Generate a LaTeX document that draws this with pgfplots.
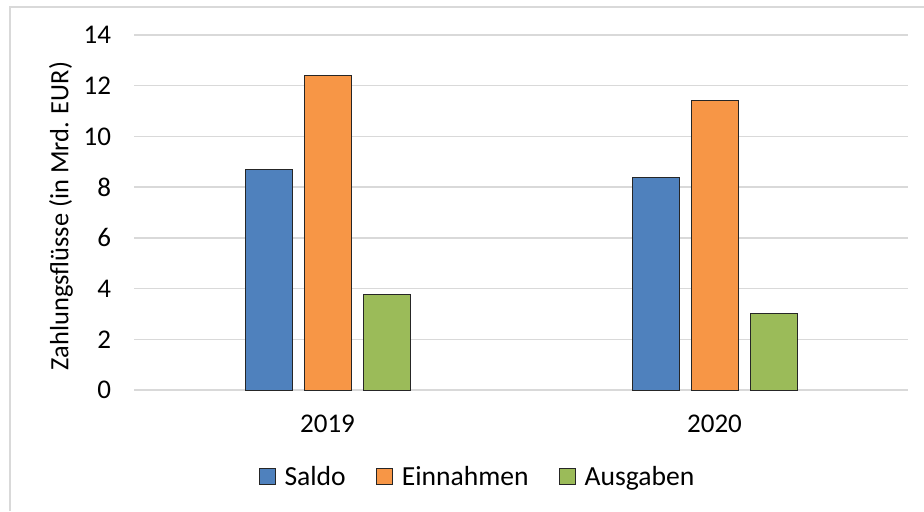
\documentclass[border=0pt]{standalone}
\usepackage{pgfplots}
\pgfplotsset{compat=1.18}
\usepackage{fontspec}
\setmainfont{Carlito}
\definecolor{cSaldo}{HTML}{4F81BD}
\definecolor{cEin}{HTML}{F79646}
\definecolor{cAus}{HTML}{9BBB59}
\definecolor{gridc}{HTML}{D9D9D9}
\begin{document}
\begin{tikzpicture}
\path[use as bounding box] (0,0) rectangle (462pt,255.5pt);
\draw[gridc, line width=1.2pt] (5pt,0) -- (5pt,252pt) -- (462pt,252pt);
\begin{axis}[
  at={(67pt,60.5pt)}, anchor=south west,
  scale only axis, width=387pt, height=177.5pt,
  ybar=6pt, bar width=23.5pt,
  xmin=-0.5, xmax=1.5, ymin=0, ymax=14,
  xtick=data, xticklabels={2019,2020},
  ytick={0,2,...,14},
  major tick length=0pt,
  ymajorgrids, grid style={gridc, line width=0.75pt},
  axis line style={draw=none},
  /pgf/number format/assume math mode=true,
  font=\fontsize{13.5pt}{16pt}\selectfont,
  yticklabel style={xshift=-8pt},
  xticklabel style={yshift=-9pt},
  ylabel={Zahlungsflüsse (in Mrd. EUR)},
  ylabel style={font=\fontsize{13.2pt}{16pt}\selectfont, at={(ticklabel cs:0.49)}, yshift=-1.5pt},
  every axis plot/.append style={draw=black!85, line width=0.5pt},
  legend style={draw=none, at={(0.445,-0.245)}, anchor=center, legend columns=-1,
    font=\fontsize{13.8pt}{16pt}\selectfont,
    /tikz/every odd column/.append style={column sep=2.5pt},
    /tikz/every even column/.append style={column sep=13pt}},
  legend image code/.code={\draw[#1, line width=0.5pt] (0pt,-4pt) rectangle (8pt,4pt);},
]
\addplot[fill=cSaldo] coordinates {(0,8.68) (1,8.40)};
\addplot[fill=cEin] coordinates {(0,12.42) (1,11.40)};
\addplot[fill=cAus] coordinates {(0,3.75) (1,3.00)};
\legend{Saldo,Einnahmen,Ausgaben}
\end{axis}
\end{tikzpicture}
\end{document}
